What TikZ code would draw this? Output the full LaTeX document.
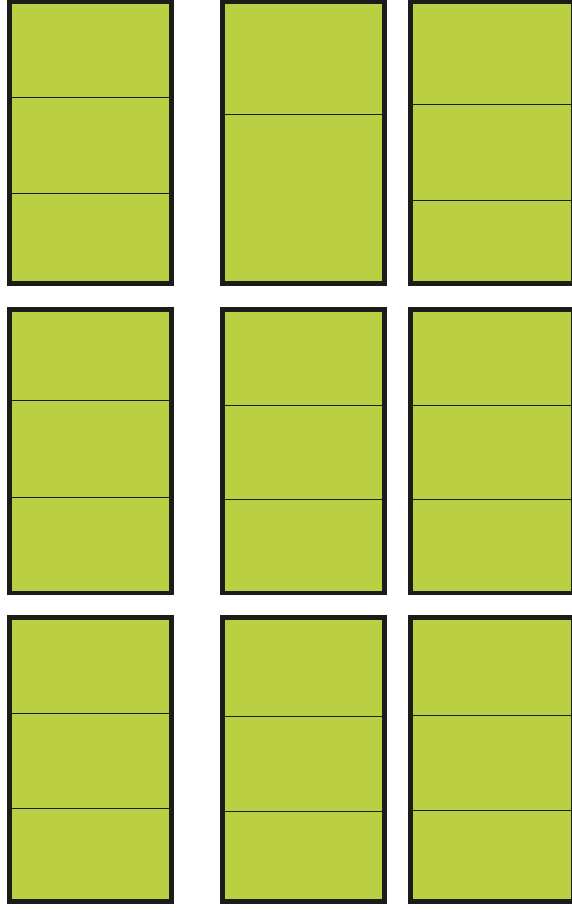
\documentclass[tikz,border=0pt]{standalone}
\usepackage{tikz}
\definecolor{panelgreen}{RGB}{186,207,65}
\definecolor{paneledge}{RGB}{28,28,24}

\begin{document}
\begin{tikzpicture}[x=1pt,y=-1pt,panel/.style={fill=panelgreen,draw=paneledge,line width=4.5pt},divider/.style={draw=paneledge,line width=1pt}]
\useasboundingbox (0,0) rectangle (572,910);
% top row
\draw[panel](9.5,2) rectangle (171.5,283.5);
\draw[panel](222.5,2) rectangle (384.5,283.5);
\draw[panel](410.5,2) rectangle (573,283.5);
\draw[divider](9.5,97)--(171.5,97);\draw[divider](9.5,193)--(171.5,193);
\draw[divider](222.5,114)--(384.5,114);
\draw[divider](410.5,104)--(573,104);\draw[divider](410.5,200)--(573,200);
% middle row
\draw[panel](9.5,309.5) rectangle (171.5,593);
\draw[panel](222.5,309.5) rectangle (384.5,593);
\draw[panel](410.5,309.5) rectangle (573,593);
\draw[divider](9.5,400)--(171.5,400);\draw[divider](9.5,497)--(171.5,497);
\draw[divider](222.5,405)--(384.5,405);\draw[divider](222.5,499)--(384.5,499);
\draw[divider](410.5,405)--(573,405);\draw[divider](410.5,499)--(573,499);
% bottom row
\draw[panel](9.5,617.5) rectangle (171.5,901.5);
\draw[panel](222.5,617.5) rectangle (384.5,901.5);
\draw[panel](410.5,617.5) rectangle (573,901.5);
\draw[divider](9.5,713)--(171.5,713);\draw[divider](9.5,808)--(171.5,808);
\draw[divider](222.5,716)--(384.5,716);\draw[divider](222.5,811)--(384.5,811);
\draw[divider](410.5,715)--(573,715);\draw[divider](410.5,810)--(573,810);
\end{tikzpicture}
\end{document}
